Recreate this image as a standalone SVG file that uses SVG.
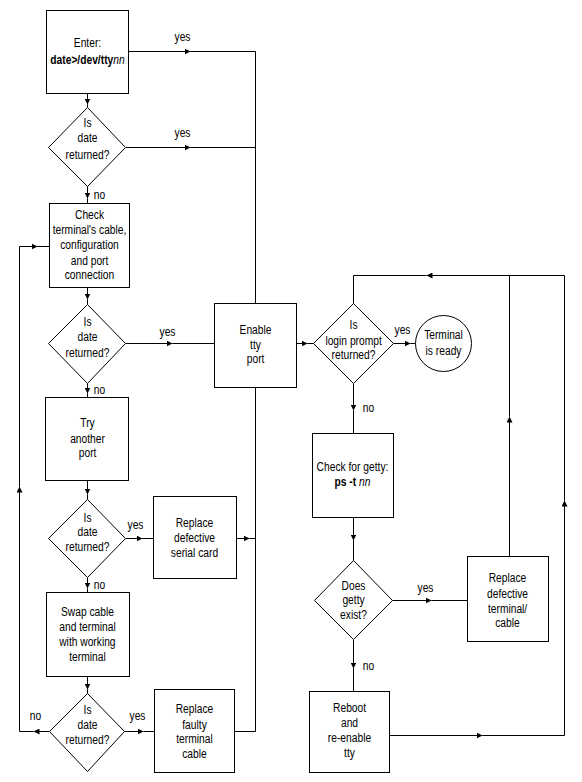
<svg xmlns="http://www.w3.org/2000/svg" width="582" height="782" viewBox="0 0 582 782">
<style>
.n rect,.n polygon,.n circle{fill:#fff;stroke:#000;stroke-width:1}
text{font-family:"Liberation Sans",Arial,sans-serif;font-size:12.5px;fill:#000;text-anchor:middle;transform-box:fill-box;transform-origin:center;transform:scaleX(0.82)}
.l{text-anchor:start}
.c path{fill:none;stroke:#000;stroke-width:1;marker-mid:url(#a)}
.b{font-weight:bold}
.i{font-style:italic}
</style>
<defs>
<marker id="a" viewBox="0 0 6 6" refX="6" refY="3" markerWidth="6" markerHeight="6" markerUnits="userSpaceOnUse" orient="auto">
<path d="M0,0 L6,3 L0,6 z" fill="#000" stroke="none"/>
</marker>
</defs>
<rect width="582" height="782" fill="#fff"/>
<g transform="translate(0.5,0.5)">
<g class="c" id="connectors">
<path d="M128,51 L190,51 L255,51"/>
<path d="M255,51 L255,303"/>
<path d="M125,147 L190,147 L255,147"/>
<path d="M87,93 L87,104 L87,107"/>
<path d="M87,186 L87,198 L87,203"/>
<path d="M87,287 L87,299 L87,304"/>
<path d="M125,343 L172,343 L214,343"/>
<path d="M87,383 L87,393 L87,397"/>
<path d="M87,480 L87,494 L87,499"/>
<path d="M125,538 L142,538 L153,538"/>
<path d="M236,538 L249,538 L255,538"/>
<path d="M87,577 L87,588 L87,592"/>
<path d="M87,676 L87,689 L87,693"/>
<path d="M49,731 L33,731 L19,731"/>
<path d="M19,731 L19,486 L19,246"/>
<path d="M19,246 L37,246 L49,246"/>
<path d="M124,731 L143,731 L154,731"/>
<path d="M234,731 L255,731"/>
<path d="M255,731 L255,387"/>
<path d="M296,343 L307,343 L313,343"/>
<path d="M393,343 L410,343 L415,343"/>
<path d="M353,383 L353,410 L353,433"/>
<path d="M353,517 L353,540 L353,560"/>
<path d="M392,600 L431,600 L467,600"/>
<path d="M509,556 L509,416 L509,275"/>
<path d="M353,639 L353,668 L353,691"/>
<path d="M389,735 L482,735 L564,735"/>
<path d="M564,735 L564,500 L564,275"/>
<path d="M564,275 L426,275 L353,275"/>
<path d="M353,275 L353,303"/>
</g>
<g id="labels">
<text x="182" y="41">yes</text>
<text x="182" y="137">yes</text>
<text class="l" x="92" y="199">no</text>
<text x="167" y="336">yes</text>
<text class="l" x="92" y="394">no</text>
<text x="135" y="529">yes</text>
<text class="l" x="92" y="589">no</text>
<text x="35" y="720">no</text>
<text x="137" y="720">yes</text>
<text x="402" y="334">yes</text>
<text class="l" x="361" y="412">no</text>
<text x="425" y="592">yes</text>
<text class="l" x="361" y="670">no</text>
</g>
<g class="n" id="enter">
<rect x="46" y="10" width="82" height="83"/>
<text x="87" y="47">Enter:</text>
<text x="87" y="64"><tspan class="b">date&gt;/dev/tty</tspan><tspan class="i">nn</tspan></text>
</g>
<g class="n" id="dec1">
<polygon points="87,107 125,147 87,186 48,147"/>
<text x="87" y="127">Is</text>
<text x="87" y="142">date</text>
<text x="87" y="159">returned?</text>
</g>
<g class="n" id="check">
<rect x="49" y="203" width="80" height="84"/>
<text x="89" y="219">Check</text>
<text x="89" y="234">terminal's cable,</text>
<text x="89" y="249">configuration</text>
<text x="89" y="265">and port</text>
<text x="89" y="279">connection</text>
</g>
<g class="n" id="dec2">
<polygon points="87,304 125,343 87,383 48,343"/>
<text x="87" y="326">Is</text>
<text x="87" y="341">date</text>
<text x="87" y="357">returned?</text>
</g>
<g class="n" id="enable">
<rect x="214" y="303" width="82" height="84"/>
<text x="255" y="334">Enable</text>
<text x="255" y="349">tty</text>
<text x="255" y="363">port</text>
</g>
<g class="n" id="try">
<rect x="45" y="397" width="83" height="83"/>
<text x="87" y="427">Try</text>
<text x="87" y="443">another</text>
<text x="87" y="457">port</text>
</g>
<g class="n" id="dec3">
<polygon points="87,499 125,538 87,577 48,538"/>
<text x="87" y="522">Is</text>
<text x="87" y="536">date</text>
<text x="87" y="551">returned?</text>
</g>
<g class="n" id="serial">
<rect x="153" y="496" width="83" height="82"/>
<text x="194" y="527">Replace</text>
<text x="194" y="542">defective</text>
<text x="194" y="557">serial card</text>
</g>
<g class="n" id="swap">
<rect x="46" y="592" width="83" height="84"/>
<text x="87" y="616">Swap cable</text>
<text x="87" y="631">and terminal</text>
<text x="87" y="646">with working</text>
<text x="87" y="661">terminal</text>
</g>
<g class="n" id="dec4">
<polygon points="87,693 124,731 87,771 49,731"/>
<text x="87" y="714">Is</text>
<text x="87" y="729">date</text>
<text x="87" y="744">returned?</text>
</g>
<g class="n" id="faulty">
<rect x="154" y="689" width="80" height="83"/>
<text x="194" y="713">Replace</text>
<text x="194" y="729">faulty</text>
<text x="194" y="743">terminal</text>
<text x="194" y="758">cable</text>
</g>
<g class="n" id="login">
<polygon points="353,303 393,343 353,383 313,343"/>
<text x="353" y="329">Is</text>
<text x="353" y="345">login prompt</text>
<text x="353" y="359">returned?</text>
</g>
<g class="n" id="ready">
<circle cx="443" cy="343" r="28"/>
<text x="443" y="339">Terminal</text>
<text x="443" y="355">is ready</text>
</g>
<g class="n" id="getty">
<rect x="312" y="433" width="81" height="84"/>
<text x="352" y="471">Check for getty:</text>
<text x="352" y="486"><tspan class="b">ps -t </tspan><tspan class="i">nn</tspan></text>
</g>
<g class="n" id="exist">
<polygon points="353,560 392,600 353,639 314,600"/>
<text x="353" y="590">Does</text>
<text x="353" y="604">getty</text>
<text x="353" y="619">exist?</text>
</g>
<g class="n" id="replterm">
<rect x="467" y="556" width="81" height="85"/>
<text x="507" y="582">Replace</text>
<text x="507" y="598">defective</text>
<text x="507" y="613">terminal/</text>
<text x="507" y="627">cable</text>
</g>
<g class="n" id="reboot">
<rect x="309" y="691" width="80" height="81"/>
<text x="349" y="712">Reboot</text>
<text x="349" y="727">and</text>
<text x="349" y="742">re-enable</text>
<text x="349" y="757">tty</text>
</g>
</g>
</svg>
